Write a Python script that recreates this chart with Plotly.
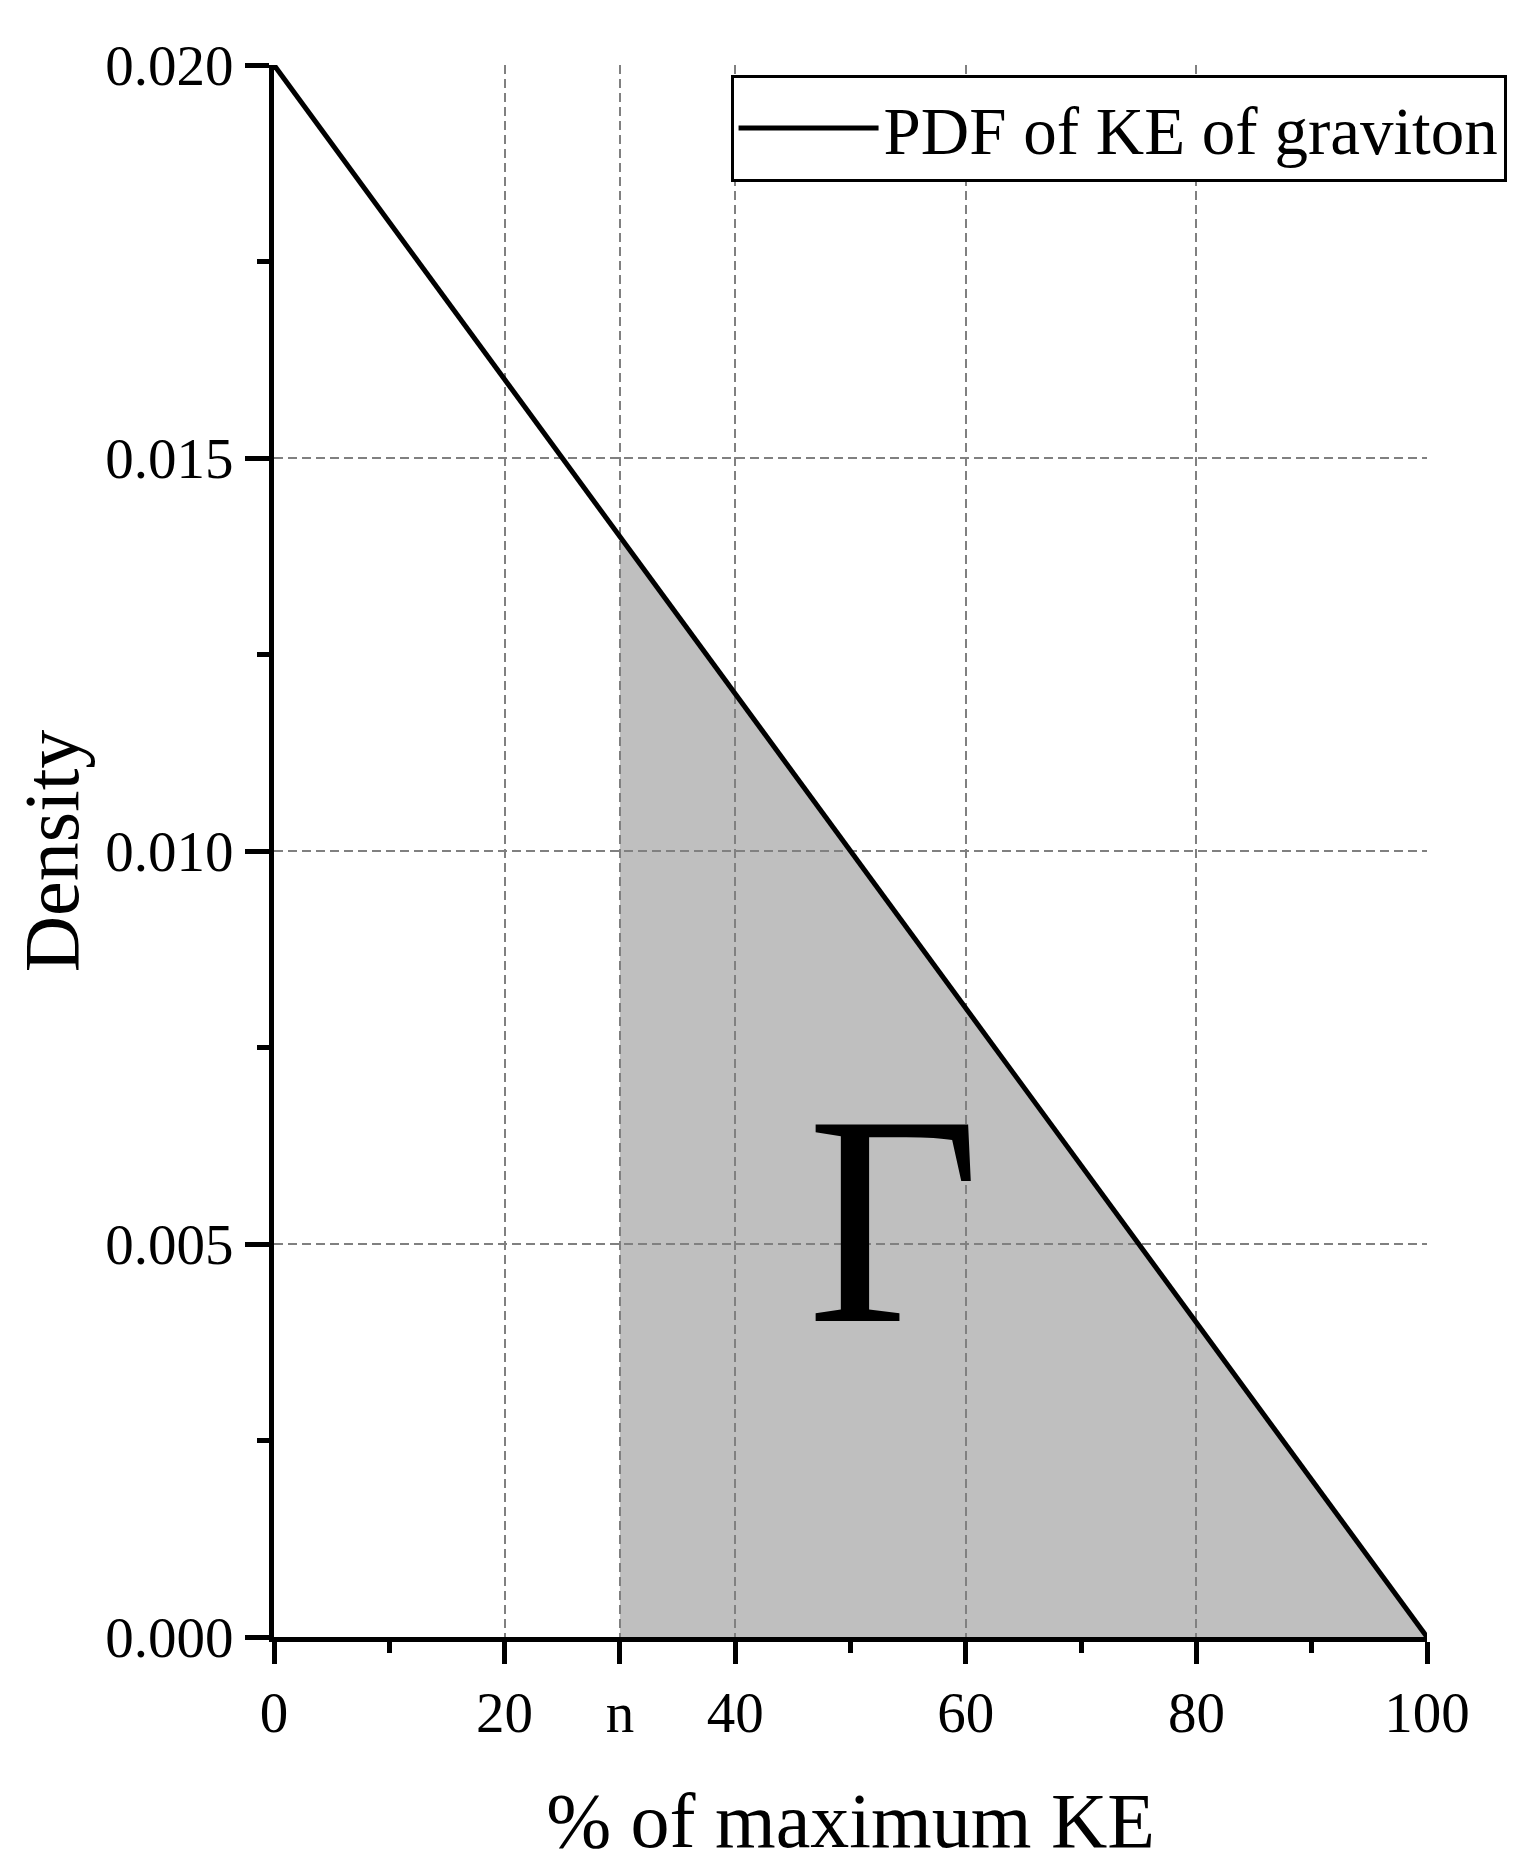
import plotly.graph_objects as go

# data
ke_pct = [0, 30, 100]          # % of maximum KE
density = [0.020, 0.014, 0.0]  # PDF values
shade_x = [30, 100]
shade_y = [0.014, 0.0]
x_tickvals = [0, 20, 30, 40, 60, 80, 100]
x_ticktext = ["0", "20", "n", "40", "60", "80", "100"]
x_grid = [20, 30, 40, 60, 80]
y_grid = [0.005, 0.010, 0.015]

FONT = "Liberation Serif, Times New Roman, serif"

fig = go.Figure()
fig.add_trace(go.Scatter(x=shade_x, y=shade_y, mode="lines", line=dict(width=0),
                         fill="tozeroy", fillcolor="rgba(128,128,128,0.5)",
                         showlegend=False, hoverinfo="skip"))
fig.add_trace(go.Scatter(x=ke_pct, y=density, mode="lines",
                         line=dict(color="black", width=5),
                         name="PDF of KE of graviton"))

fig.add_annotation(x=53.7, y=0.0053, xref="x", yref="y", text="Γ", showarrow=False,
                   font=dict(family=FONT, size=300, color="black"))

fig.update_layout(
    width=1527, height=1868,
    margin=dict(l=266, r=108, t=57, b=239),
    paper_bgcolor="white", plot_bgcolor="white",
    font=dict(family=FONT, color="black"),
    showlegend=True,
    legend=dict(x=1.069, xanchor="right", y=0.9936, yanchor="top",
                bordercolor="black", borderwidth=3, bgcolor="white",
                font=dict(family=FONT, size=67, color="black"),
                itemwidth=140),
    xaxis=dict(range=[0, 100], tickmode="array", tickvals=x_tickvals, ticktext=x_ticktext,
               showgrid=False, zeroline=False, showline=True, linecolor="black", linewidth=5,
               ticks="outside", ticklen=22, tickwidth=5, tickcolor="black",
               tickfont=dict(family=FONT, size=57, color="black"),
               minor=dict(dtick=10, tick0=0, ticks="outside", ticklen=11, tickwidth=5,
                          tickcolor="black", showgrid=False),
               title=dict(text="% of maximum KE", font=dict(family=FONT, size=78, color="black"),
                          standoff=50)),
    yaxis=dict(range=[0, 0.020], tickmode="linear", tick0=0, dtick=0.005, tickformat=".3f",
               showgrid=False, zeroline=False, showline=True, linecolor="black", linewidth=5,
               ticks="outside", ticklen=24, tickwidth=5, tickcolor="black",
               tickfont=dict(family=FONT, size=57, color="black"),
               minor=dict(dtick=0.0025, tick0=0, ticks="outside", ticklen=12, tickwidth=5,
                          tickcolor="black", showgrid=False),
               title=dict(text="Density", font=dict(family=FONT, size=78, color="black"),
                          standoff=10)),
    xaxis2=dict(overlaying="x", matches="x", range=[0, 100], tickmode="array", tickvals=x_grid,
                showgrid=True, gridcolor="#808080", gridwidth=2, griddash="9px,5px",
                showticklabels=False, ticks="", showline=False, zeroline=False),
    yaxis2=dict(overlaying="y", matches="y", range=[0, 0.020], tickmode="array", tickvals=y_grid,
                showgrid=True, gridcolor="#808080", gridwidth=2, griddash="9px,5px",
                showticklabels=False, ticks="", showline=False, zeroline=False),
)
# invisible trace to activate the overlay axes that carry the dashed gridlines
fig.add_trace(go.Scatter(x=[0], y=[0], xaxis="x2", yaxis="y2", mode="markers",
                         marker=dict(opacity=0), showlegend=False, hoverinfo="skip"))

fig.write_html("out.html")
